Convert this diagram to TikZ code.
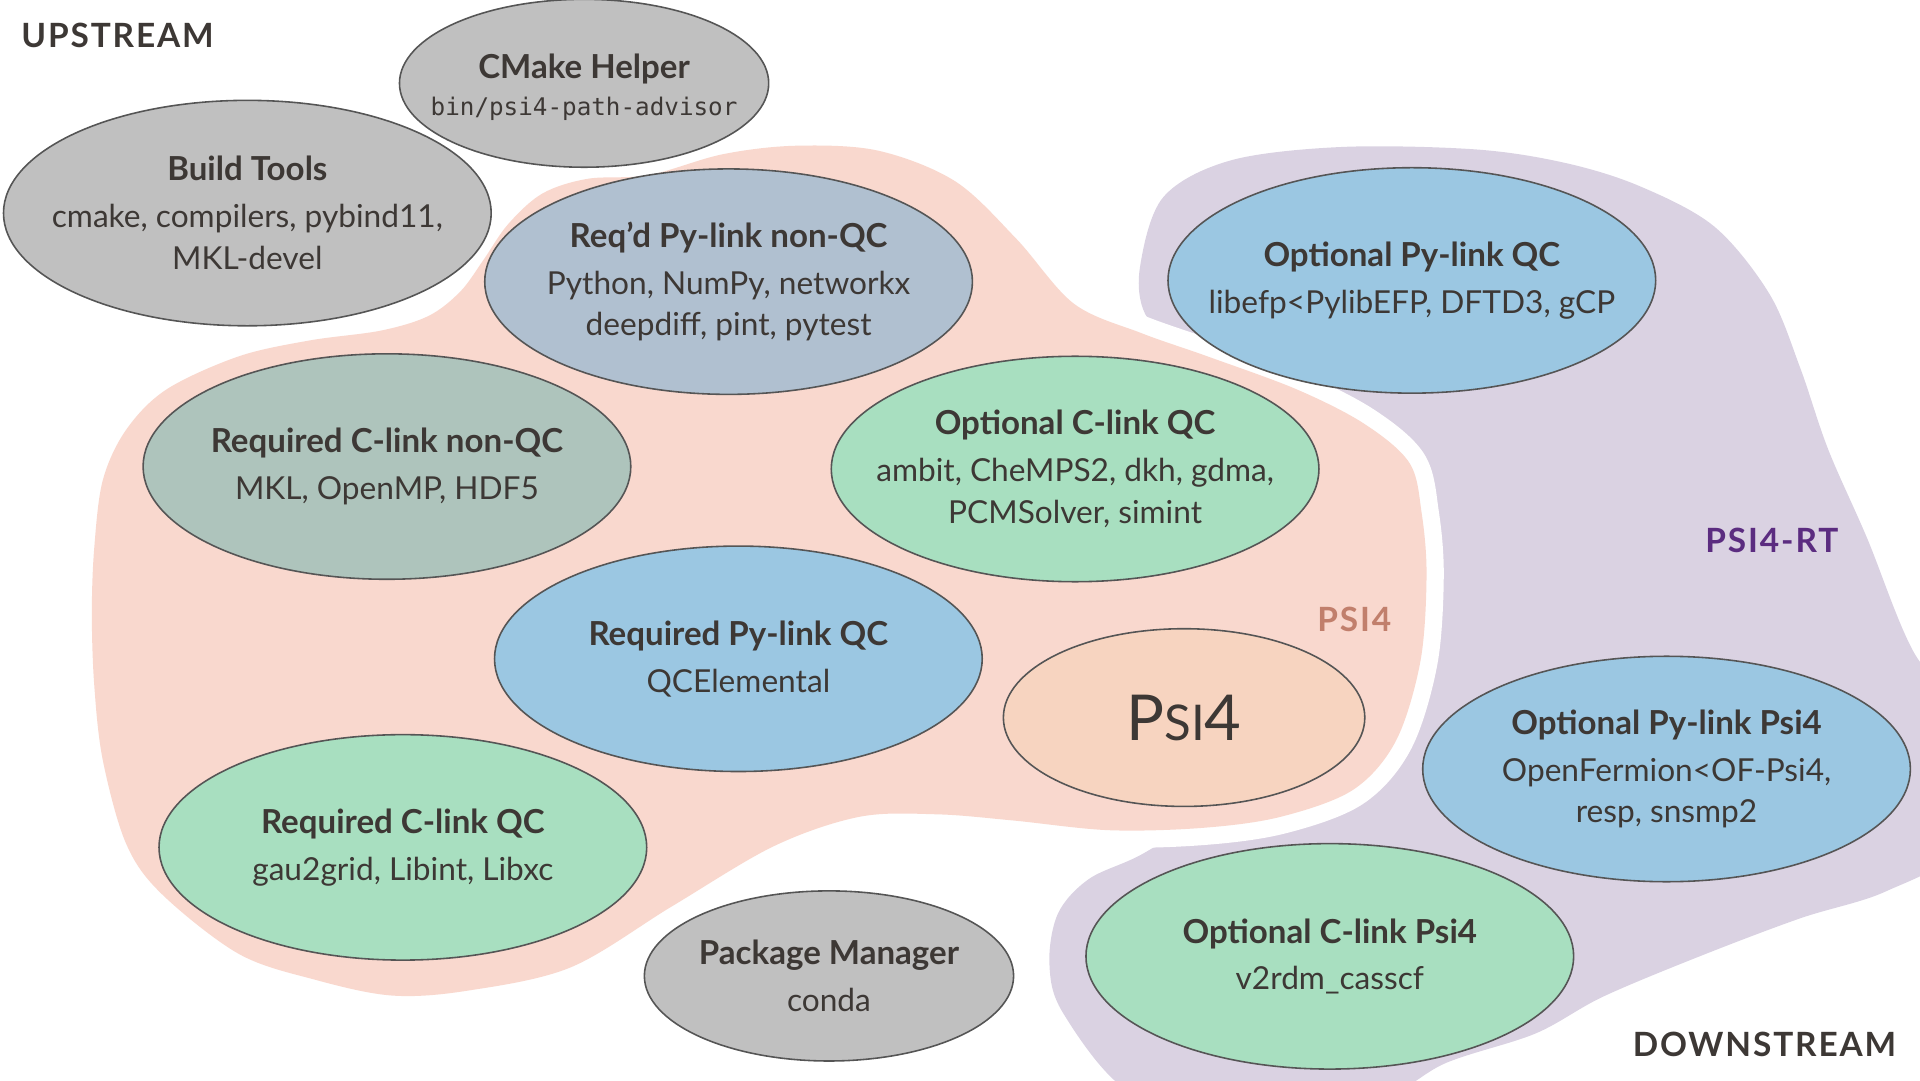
\documentclass[tikz,border=0pt]{standalone}
\usepackage{fontspec}
\setmainfont{Lato}
\setmonofont{DejaVu Sans Mono}
\usetikzlibrary{shapes.geometric}
\definecolor{pkgtext}{HTML}{3D3835}
\definecolor{pkgedge}{HTML}{555555}
\definecolor{toolgray}{HTML}{C0C0C0}
\definecolor{pynonqc}{HTML}{B0C0D0}
\definecolor{cnonqc}{HTML}{AEC4BC}
\definecolor{clinkgreen}{HTML}{A8DFC0}
\definecolor{pylinkblue}{HTML}{9BC7E2}
\definecolor{psipeach}{HTML}{F7D4C0}
\definecolor{psifill}{HTML}{F9D8CE}
\definecolor{rtfill}{HTML}{DAD2E2}
\definecolor{psitag}{HTML}{C17F6C}
\definecolor{rttag}{HTML}{5B2C80}

\newcommand{\pkghead}[1]{{\bfseries\fontsize{9.4}{11.9}\selectfont #1}\\[1.4pt]}

\begin{document}
\begin{tikzpicture}[x=0.012245cm, y=-0.012245cm,
    pkg/.style={ellipse, draw=pkgedge, line width=0.45pt, inner sep=0pt,
      minimum width=4.874cm, minimum height=2.253cm},
    tool/.style={pkg, fill=toolgray, minimum width=3.69cm, minimum height=1.70cm},
    txt/.style={align=center, inner sep=0pt, text=pkgtext, font=\fontsize{9}{11.9}\selectfont},
    tag/.style={inner sep=0pt, font=\fontsize{9.5}{12}\selectfont\bfseries\addfontfeatures{LetterSpace=5.6}}]
  \useasboundingbox (0,0) rectangle (1568,882);
  \clip (0,0) rectangle (1568,882);

  % psi4-rt region
  \fill[rtfill] plot[smooth cycle, tension=0.55] coordinates {
    (931,218) (950,161) (1005,131) (1096,120) (1205,122) (1278,133) (1339,152)
    (1400,185) (1445,240) (1470,300) (1493,367) (1525,440) (1562,531) (1610,600)
    (1600,690) (1540,728) (1470,750) (1388,781) (1309,814) (1254,844) (1181,868)
    (1120,900) (1000,910) (920,890) (868,827) (857,787) (864,746) (889,718)
    (930,699) (985,668) (1040,656) (1096,634) (1128,598) (1148,540) (1153,470)
    (1150,425) (1138,385) (1105,356) (1060,330) (1005,302) (962,282) (935,256)};
  % psi4 region, white margin round it
  \fill[psifill, preaction={draw=white, line width=9.8pt}] plot[smooth cycle, tension=0.55] coordinates {
    (443,158) (480,146) (530,143) (590,126) (650,119) (717,123) (780,148)
    (830,195) (877,248) (932,272) (986,291) (1059,318) (1114,346) (1151,378)
    (1161,419) (1165,470) (1160,540) (1140,605) (1105,645) (1046,667) (983,676)
    (906,678) (827,670) (765,665) (702,667) (632,691) (549,740) (466,790)
    (382,809) (320,813) (257,800) (195,779) (132,730) (103,689) (84,621)
    (77,560) (75,501) (77,447) (84,392) (103,351) (136,318) (195,291)
    (253,278) (311,270) (350,258) (376,238) (395,212) (415,183)};

  % upstream
  \node[tool, minimum height=1.678cm, label={[txt, yshift=-1.2pt]center:{{\bfseries\fontsize{9.4}{11.9}\selectfont CMake Helper}\\[-1.4pt]
    {\ttfamily\fontsize{6.9}{8}\selectfont bin/psi4-path-advisor}}}] (cmake) at (477,68) {};
  \node[pkg, fill=toolgray, label={[txt]center:{\pkghead{Build Tools}cmake, compilers, pybind11,\\MKL-devel}}] (build) at (202,174) {};
  \node[tool, label={[txt]center:{\pkghead{Package Manager}conda}}] (conda) at (677,797) {};

  % psi4
  \node[pkg, fill=pynonqc, label={[txt]center:{\pkghead{Req’d Py-link non-QC}Python, NumPy, networkx\\deepdiff, pint, pytest}}] (pynon) at (595,230) {};
  \node[pkg, fill=cnonqc, label={[txt]center:{\pkghead{Required C-link non-QC}MKL, OpenMP, HDF5}}] (cnon) at (316,381) {};
  \node[pkg, fill=clinkgreen, label={[txt]center:{\pkghead{Optional C-link QC}ambit, CheMPS2, dkh, gdma,\\PCMSolver, simint}}] (optc) at (878,383) {};
  \node[pkg, fill=pylinkblue, label={[txt]center:{\pkghead{Required Py-link QC}QCElemental}}] (reqpy) at (603,538) {};
  \node[pkg, fill=clinkgreen, label={[txt]center:{\pkghead{Required C-link QC}gau2grid, Libint, Libxc}}] (reqc) at (329,692) {};
  \node[pkg, fill=psipeach, minimum width=3.612cm, minimum height=1.776cm,
    label={[txt]center:{\fontsize{18}{18}\selectfont P\fontsize{14}{14}\selectfont SI\fontsize{18}{18}\selectfont 4}}] (psi4) at (967,586) {};

  % downstream
  \node[pkg, fill=pylinkblue, label={[txt]center:{\pkghead{Optional Py-link QC}libefp<PylibEFP, DFTD3, gCP}}] (optpy) at (1153,229) {};
  \node[pkg, fill=pylinkblue, label={[txt]center:{\pkghead{Optional Py-link Psi4}OpenFermion<OF-Psi4,\\resp, snsmp2}}] (optpypsi) at (1361,628) {};
  \node[pkg, fill=clinkgreen, label={[txt]center:{\pkghead{Optional C-link Psi4}v2rdm\_casscf}}] (optcpsi) at (1086,781) {};

  % region tags
  \node[tag, text=pkgtext] (up) at (96,29) {UPSTREAM};
  \node[tag, text=pkgtext] (down) at (1441,853) {DOWNSTREAM};
  \node[tag, text=psitag] (psitagl) at (1106,506) {PSI4};
  \node[tag, text=rttag] (rttagl) at (1447,441) {PSI4-RT};
\end{tikzpicture}
\end{document}
